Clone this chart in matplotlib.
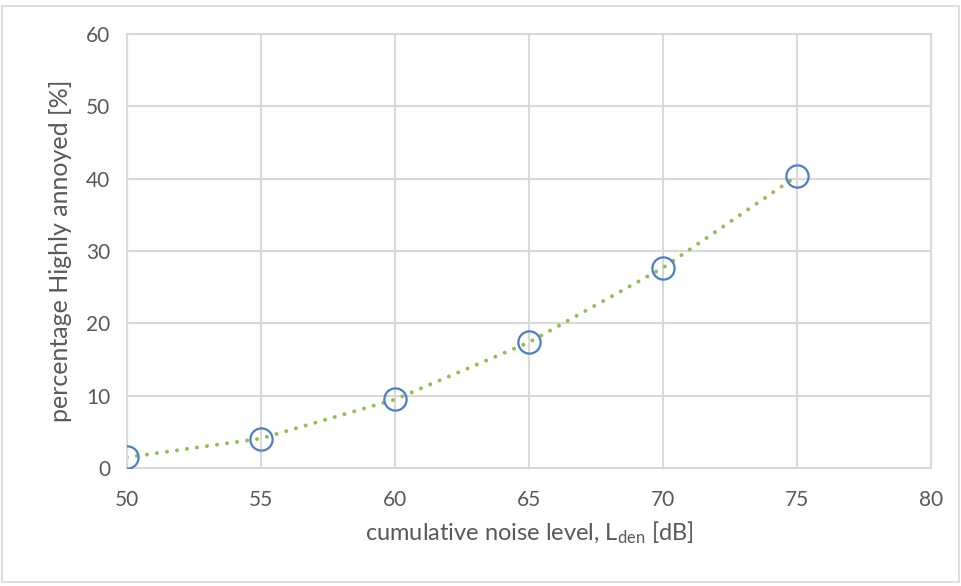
import matplotlib
matplotlib.use('Agg')
import matplotlib.pyplot as plt
from matplotlib.patches import Rectangle

plt.rcParams['font.family'] = ['Lato', 'DejaVu Sans']
plt.rcParams['mathtext.default'] = 'regular'

# data
noise_level = [50, 55, 60, 65, 70, 75]
pct_annoyed = [1.5, 4.1, 9.5, 17.4, 27.7, 40.4]

x_ticks = [50, 55, 60, 65, 70, 75, 80]
y_ticks = [0, 10, 20, 30, 40, 50, 60]

grid_col = '#D9D9D9'
text_col = '#595959'

fig = plt.figure(figsize=(9.61, 5.86), dpi=100)
ax = fig.add_axes([0.132, 0.201, 0.837, 0.741])

ax.plot(noise_level, pct_annoyed, linestyle=(0, (0.01, 2.5)), color='#92C050',
        linewidth=2.9, dash_capstyle='round', zorder=2)
ax.plot(noise_level, pct_annoyed, 'o', markersize=16, markerfacecolor='none',
        markeredgecolor='#4A7EC7', markeredgewidth=1.6, zorder=3)

ax.set_xlim(50, 80)
ax.set_ylim(0, 60)
ax.set_xticks(x_ticks)
ax.set_yticks(y_ticks)
ax.grid(True, color=grid_col, linewidth=1.5)
ax.set_axisbelow(True)
for sp in ax.spines.values():
    sp.set_color(grid_col)
    sp.set_linewidth(1.5)
ax.tick_params(length=0, labelsize=15, labelcolor=text_col)
ax.tick_params(axis='x', pad=16)
ax.tick_params(axis='y', pad=12)

ax.set_xlabel('cumulative noise level, L$_{den}$ [dB]', fontsize=17, color=text_col, labelpad=7)
ax.set_ylabel('percentage Highly annoyed [%]', fontsize=18, color=text_col, labelpad=10)

# light border round the whole chart
fig.patches.append(Rectangle((0.002, 0.006), 0.996, 0.984, transform=fig.transFigure,
                             fill=False, edgecolor=grid_col, linewidth=1.2))

fig.savefig('out.png', dpi=100)
